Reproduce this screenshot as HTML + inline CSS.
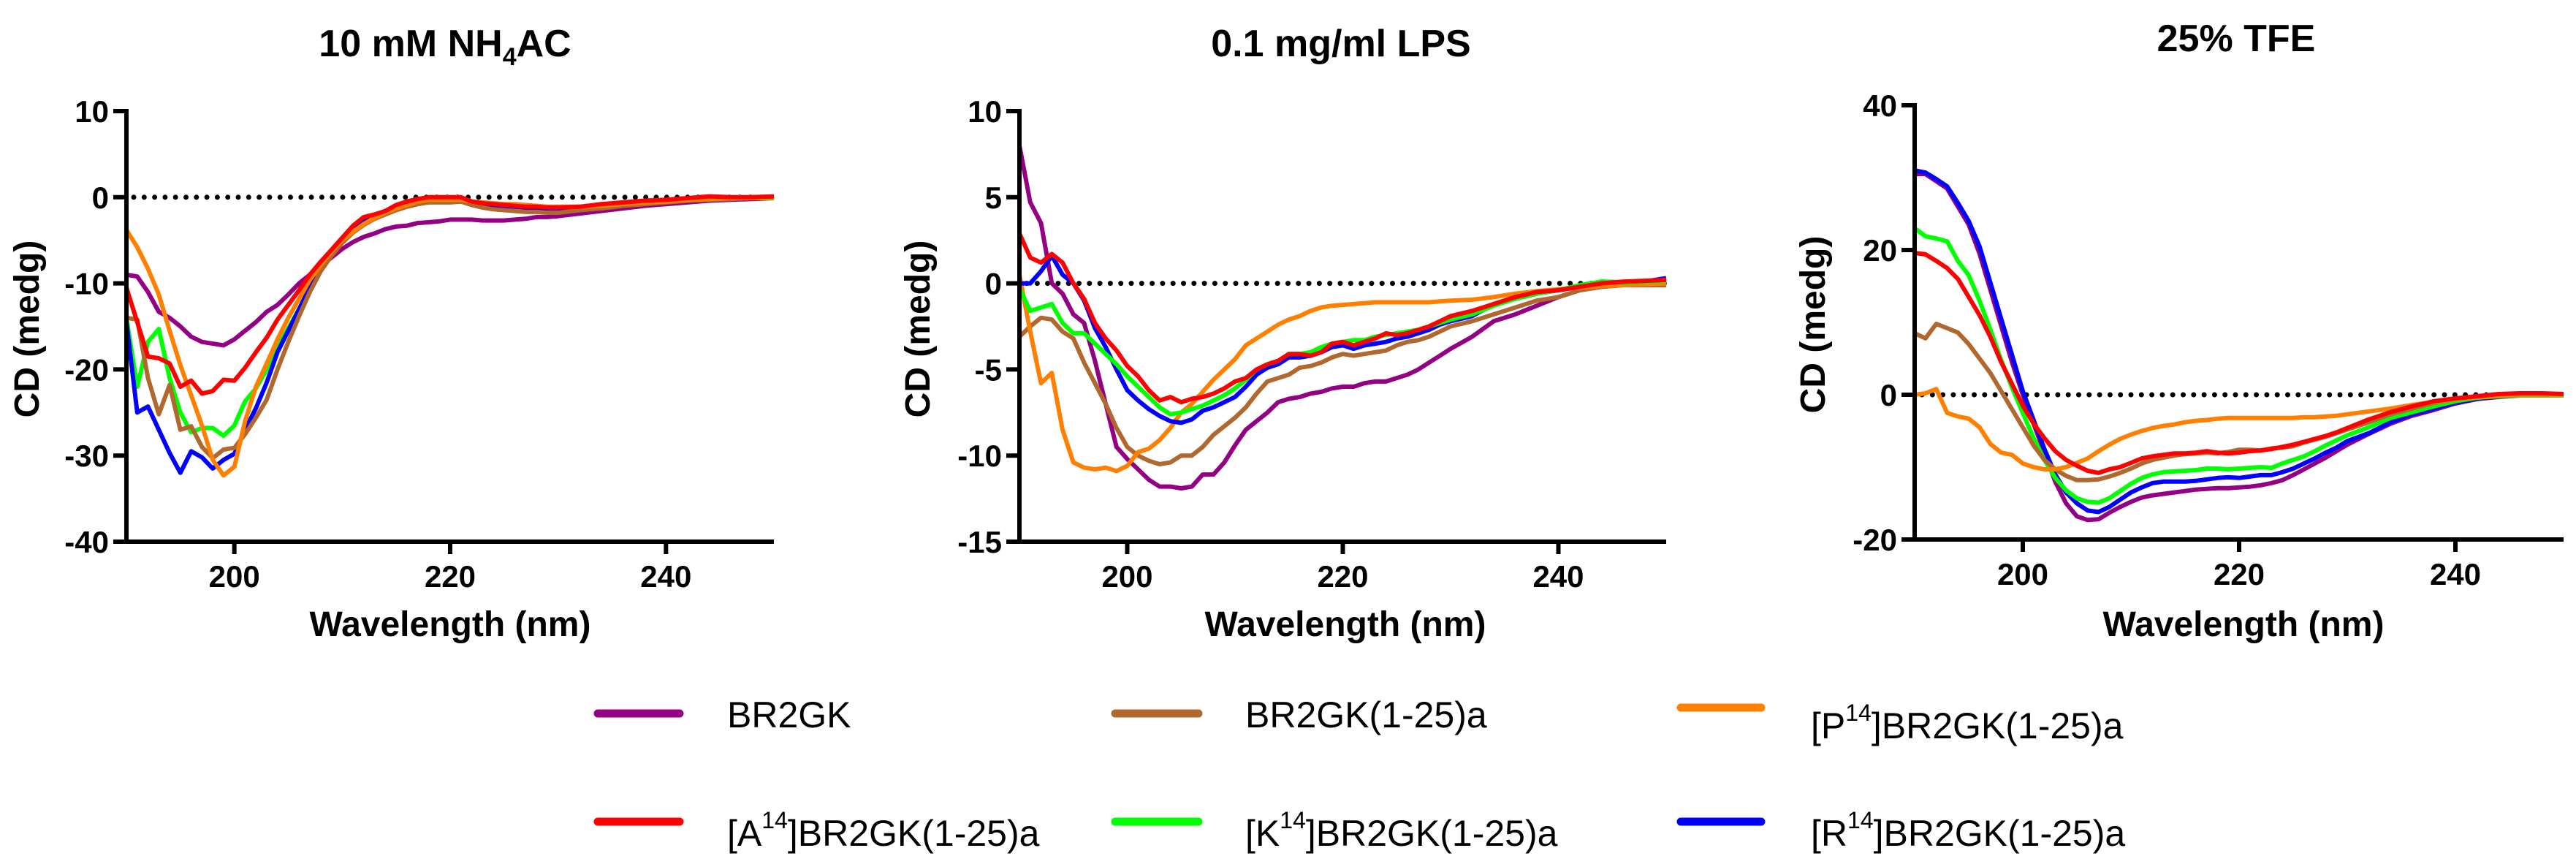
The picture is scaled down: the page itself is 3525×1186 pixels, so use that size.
<!DOCTYPE html>
<html><head><meta charset="utf-8"><style>
html,body{margin:0;padding:0;background:#fff;}
svg{display:block;font-family:"Liberation Sans",Arial,sans-serif;}
</style></head><body>
<svg id="chart" width="3525" height="1186" viewBox="0 0 3525 1186" xmlns="http://www.w3.org/2000/svg">
<g font-weight="bold" font-size="52" text-anchor="middle">
<text x="609" y="77">10 mM NH<tspan font-size="34" dy="12">4</tspan><tspan dy="-12">AC</tspan></text>
<text x="1835" y="77">0.1 mg/ml LPS</text>
<text x="3060" y="70">25% TFE</text>
</g>
<g id="plots"></g>
<g font-size="50">
<line x1="818" y1="976" x2="930" y2="976" stroke="#930083" stroke-width="11" stroke-linecap="round"/>
<text x="995" y="995">BR2GK</text>
<line x1="1526" y1="976" x2="1640" y2="976" stroke="#B0682E" stroke-width="11" stroke-linecap="round"/>
<text x="1704" y="995">BR2GK(1-25)a</text>
<line x1="2300" y1="968" x2="2410" y2="968" stroke="#FF8000" stroke-width="11" stroke-linecap="round"/>
<text x="2478" y="1010">[P<tspan font-size="32" dy="-24">14</tspan><tspan dy="24">]BR2GK(1-25)a</tspan></text>
<line x1="818" y1="1124" x2="930" y2="1124" stroke="#FF0000" stroke-width="11" stroke-linecap="round"/>
<text x="995" y="1157">[A<tspan font-size="32" dy="-24">14</tspan><tspan dy="24">]BR2GK(1-25)a</tspan></text>
<line x1="1526" y1="1124" x2="1640" y2="1124" stroke="#00FF00" stroke-width="11" stroke-linecap="round"/>
<text x="1704" y="1157">[K<tspan font-size="32" dy="-24">14</tspan><tspan dy="24">]BR2GK(1-25)a</tspan></text>
<line x1="2300" y1="1124" x2="2410" y2="1124" stroke="#0000FF" stroke-width="11" stroke-linecap="round"/>
<text x="2478" y="1157">[R<tspan font-size="32" dy="-24">14</tspan><tspan dy="24">]BR2GK(1-25)a</tspan></text>
</g>
</svg>
<script>
const xTicks = [200, 220, 240];
const yTicks1 = [10, 0, -10, -20, -30, -40];
const yTicks2 = [10, 5, 0, -5, -10, -15];
const yTicks3 = [40, 20, 0, -20];
const wl = [190,191,192,193,194,195,196,197,198,199,200,201,202,203,204,205,206,207,208,209,210,211,212,213,214,215,216,217,218,219,220,221,222,223,224,225,226,227,228,229,230,232,234,236,238,240,242,244,246,248,250];
const seriesNames = ['BR2GK','BR2GK(1-25)a','[P14]BR2GK(1-25)a','[A14]BR2GK(1-25)a','[K14]BR2GK(1-25)a','[R14]BR2GK(1-25)a'];
const seriesColors = ['#930083','#B0682E','#FF8000','#FF0000','#00FF00','#0000FF'];
// Panel 1: 10 mM NH4AC
const p1Purple = [-9,-9.2,-11,-13.3,-14,-15,-16.2,-16.8,-17,-17.2,-16.5,-15.5,-14.5,-13.3,-12.5,-11.3,-10,-9,-8,-7,-6,-5.2,-4.6,-4.2,-3.7,-3.4,-3.3,-3,-2.9,-2.8,-2.6,-2.6,-2.6,-2.7,-2.7,-2.7,-2.6,-2.5,-2.3,-2.3,-2.2,-1.9,-1.6,-1.3,-1,-0.8,-0.6,-0.4,-0.3,-0.2,-0.1];
const p1Brown = [-14,-14.2,-21,-25.2,-21.8,-27,-26.6,-29,-30.3,-29.3,-29.1,-27.5,-25.6,-23.5,-20,-16.8,-13.8,-11,-8.6,-6.8,-5.3,-4.1,-3.2,-2.5,-2,-1.5,-1.1,-0.8,-0.6,-0.6,-0.6,-0.5,-0.9,-1.2,-1.4,-1.5,-1.6,-1.7,-1.7,-1.8,-1.8,-1.5,-1.3,-1,-0.8,-0.6,-0.4,-0.3,-0.2,-0.1,0];
const p1Orange = [-3.8,-5.8,-8.3,-11.3,-15.5,-19.5,-23,-26.5,-30.5,-32.3,-31.3,-26,-22,-19.3,-16.5,-14,-11.8,-9.6,-7.9,-6.3,-5,-4,-3.1,-2.4,-1.8,-1.3,-0.9,-0.5,-0.3,-0.3,-0.3,-0.3,-0.5,-0.6,-0.7,-0.8,-0.8,-0.9,-1,-1.1,-1.1,-1.1,-1,-0.8,-0.6,-0.5,-0.3,-0.2,-0.1,-0.1,0];
const p1Red = [-10.5,-14.5,-18.5,-18.7,-19.3,-22,-21.3,-22.8,-22.5,-21.2,-21.3,-19.8,-18,-16.3,-14.2,-12.5,-10.8,-9,-7.5,-6.1,-4.7,-3.3,-2.3,-2,-1.6,-0.9,-0.5,-0.2,0,0,0,0,-0.5,-0.7,-0.8,-0.9,-1,-1.1,-1.1,-1.2,-1.2,-1.1,-0.8,-0.6,-0.4,-0.3,-0.1,0.1,0,0,0.1];
const p1Green = [-14,-22,-16.8,-15.3,-21,-25,-27.3,-26.8,-26.8,-27.7,-26.5,-23.7,-22.2,-20,-17.5,-15.2,-13,-10.5,-8.3,-6.5,-5,-3.8,-2.9,-2.2,-1.7,-1.3,-0.9,-0.6,-0.5,-0.5,-0.5,-0.5,-0.8,-1,-1.2,-1.4,-1.6,-1.7,-1.7,-1.7,-1.6,-1.4,-1.1,-0.9,-0.7,-0.5,-0.4,-0.2,-0.1,-0.1,-0.1];
const p1Blue = [-14.5,-25,-24.3,-27,-29.7,-32,-29.5,-30.2,-31.5,-30.5,-29.8,-27,-24.5,-21.5,-18,-15.5,-13,-10.5,-8.3,-6.5,-5,-3.8,-2.7,-2.2,-1.6,-1.1,-0.7,-0.4,-0.3,-0.2,-0.2,-0.3,-0.6,-0.9,-1.1,-1.2,-1.3,-1.4,-1.5,-1.5,-1.5,-1.3,-1,-0.8,-0.6,-0.4,-0.2,-0.1,-0.1,0,0];
// Panel 2: 0.1 mg/ml LPS
const p2Purple = [8,4.7,3.5,0,-0.6,-1.8,-2.3,-4.5,-7,-9.5,-10.2,-10.8,-11.4,-11.8,-11.8,-11.9,-11.8,-11.1,-11.1,-10.4,-9.4,-8.5,-8,-7.5,-6.9,-6.7,-6.6,-6.4,-6.3,-6.1,-6,-6,-5.8,-5.7,-5.7,-5.5,-5.3,-5,-4.6,-4.2,-3.8,-3.1,-2.2,-1.8,-1.3,-0.8,-0.4,-0.2,-0.1,0,0.1];
const p2Brown = [-3.1,-2.5,-2,-2.1,-2.8,-3.2,-4.6,-5.8,-7,-8.4,-9.5,-10,-10.3,-10.5,-10.4,-10,-10,-9.5,-8.8,-8.3,-7.8,-7.2,-6.4,-5.7,-5.5,-5.3,-4.9,-4.8,-4.6,-4.3,-4.1,-4.2,-4.1,-4,-3.9,-3.6,-3.4,-3.3,-3.1,-2.8,-2.5,-2.2,-1.8,-1.4,-1,-0.8,-0.4,-0.2,-0.1,-0.1,-0.1];
const p2Orange = [0.5,-2.8,-5.8,-5.2,-8.5,-10.4,-10.7,-10.8,-10.7,-10.9,-10.6,-9.8,-9.6,-9.1,-8.4,-7.5,-7,-6.3,-5.6,-5,-4.4,-3.6,-3.2,-2.8,-2.4,-2.1,-1.9,-1.6,-1.4,-1.3,-1.25,-1.2,-1.15,-1.1,-1.1,-1.1,-1.1,-1.1,-1.1,-1.05,-1,-0.95,-0.8,-0.6,-0.45,-0.35,-0.25,-0.15,-0.1,-0.05,0];
const p2Red = [2.9,1.5,1.2,1.7,1.2,0,-0.9,-2.3,-3.2,-3.9,-4.8,-5.4,-6.2,-6.8,-6.6,-6.9,-6.7,-6.6,-6.4,-6.1,-5.7,-5.5,-5,-4.7,-4.5,-4.1,-4.1,-4.2,-4,-3.5,-3.4,-3.6,-3.4,-3.2,-2.9,-3,-2.9,-2.7,-2.5,-2.2,-1.9,-1.6,-1.2,-0.8,-0.5,-0.4,-0.2,0,0.1,0.15,0.2];
const p2Green = [-0.3,-1.6,-1.4,-1.2,-2.3,-2.9,-2.9,-3.5,-4.1,-4.7,-5.4,-6,-6.6,-7.2,-7.6,-7.5,-7.3,-7.1,-6.8,-6.5,-6.1,-5.6,-5,-4.7,-4.5,-4.1,-4.1,-4,-3.7,-3.5,-3.4,-3.3,-3.3,-3.1,-3,-2.9,-2.8,-2.7,-2.5,-2.3,-2.1,-1.8,-1.3,-0.9,-0.6,-0.4,-0.1,0.1,0.05,0.1,0.15];
const p2Blue = [0,0,0.7,1.6,0.5,0,-1,-2.6,-3.7,-5,-6.2,-6.8,-7.3,-7.7,-8,-8.1,-7.9,-7.4,-7.2,-6.9,-6.6,-6,-5.3,-4.9,-4.7,-4.3,-4.3,-4.2,-4,-3.7,-3.6,-3.8,-3.6,-3.5,-3.4,-3.2,-3.1,-2.9,-2.7,-2.4,-2.2,-1.9,-1.2,-0.9,-0.6,-0.4,-0.2,0.1,0.05,0.1,0.3];
// Panel 3: 25% TFE
const p3Purple = [30.5,30.5,29.5,28.5,26,23.5,19.5,14.5,9.5,4.5,0,-4,-8,-12,-15,-16.8,-17.3,-17.2,-16.3,-15.5,-14.8,-14.2,-13.9,-13.7,-13.5,-13.3,-13.1,-13,-12.9,-12.9,-12.8,-12.7,-12.5,-12.2,-11.8,-11.1,-10.3,-9.5,-8.7,-7.8,-6.9,-5.4,-4,-2.9,-2.1,-1.2,-0.6,-0.3,-0.1,0,0];
const p3Brown = [8.5,7.8,9.8,9.2,8.6,7,5,3,0.5,-2,-4.5,-7,-9,-10.3,-11.2,-11.8,-11.8,-11.7,-11.3,-10.8,-10.2,-9.5,-9,-8.7,-8.4,-8.2,-8.1,-8,-8.1,-7.9,-7.6,-7.6,-7.7,-7.4,-7.3,-7.1,-6.6,-6.2,-5.8,-5.3,-4.8,-3.8,-2.7,-1.9,-1.1,-0.6,-0.3,-0.1,0,0,0];
const p3Orange = [0,0.2,0.8,-2.5,-3,-3.3,-4.5,-6.8,-8,-8.3,-9.5,-10,-10.3,-10.3,-10,-9.4,-8.8,-7.8,-6.9,-6.1,-5.5,-5,-4.6,-4.3,-4.1,-3.8,-3.6,-3.5,-3.3,-3.2,-3.2,-3.2,-3.2,-3.2,-3.2,-3.2,-3.1,-3.1,-3,-2.9,-2.7,-2.3,-1.9,-1.4,-1,-0.6,-0.3,-0.1,0,0,0];
const p3Red = [19.6,19.4,18.5,17.5,16,13.5,11,8,4.5,1.5,-1.5,-4,-6,-7.8,-9,-9.8,-10.5,-10.8,-10.3,-10,-9.4,-8.8,-8.5,-8.3,-8.1,-8.1,-8,-7.8,-8,-8.1,-8,-7.8,-7.7,-7.5,-7.2,-6.9,-6.5,-6.1,-5.7,-5.2,-4.6,-3.4,-2.4,-1.6,-0.9,-0.5,-0.2,0.1,0.2,0.2,0.1];
const p3Green = [23,21.9,21.6,21.2,18.5,16.5,13,9,4.8,1,-2.5,-6,-9,-11.5,-13.2,-14.3,-14.8,-14.9,-14.3,-13.3,-12.3,-11.5,-11,-10.7,-10.6,-10.5,-10.4,-10.2,-10.2,-10.3,-10.2,-10.1,-10,-10.1,-9.5,-9,-8.5,-7.8,-7,-6.3,-5.6,-4.5,-3.2,-2.4,-1.6,-0.9,-0.4,-0.2,-0.1,-0.1,-0.1];
const p3Blue = [31,30.7,29.8,28.8,26.5,24,20.5,15.5,10.5,5.5,0.5,-3.5,-7.5,-11,-13.5,-15,-16,-16.2,-15.5,-14.5,-13.5,-12.8,-12.2,-12,-12,-12,-11.9,-11.7,-11.5,-11.4,-11.5,-11.3,-11.1,-11.1,-10.7,-10.2,-9.5,-8.8,-8,-7.3,-6.4,-5.3,-3.8,-2.7,-1.9,-1.1,-0.5,-0.2,0,0,0];

const NS = 'http://www.w3.org/2000/svg';
const root = document.getElementById('plots');
function mk(tag, attrs, parent){const e=document.createElementNS(NS,tag);for(const k in attrs)e.setAttribute(k,attrs[k]);parent.appendChild(e);return e;}

const panels = [
  {key:'nh4ac', x0:173, x1:1059, yTop:152, yBot:741, yMax:10, yMin:-40, ticks:yTicks1, labX:36, labY:450, xLabX:616, drawOrder:[0,4,5,1,2,3], series:[p1Purple,p1Brown,p1Orange,p1Red,p1Green,p1Blue]},
  {key:'lps', x0:1395, x1:2280, yTop:152, yBot:741, yMax:10, yMin:-15, ticks:yTicks2, labX:1255, labY:450, xLabX:1841, drawOrder:[0,1,2,5,4,3], series:[p2Purple,p2Brown,p2Orange,p2Red,p2Green,p2Blue]},
  {key:'tfe', x0:2620, x1:3508, yTop:144, yBot:738, yMax:40, yMin:-20, ticks:yTicks3, labX:2480, labY:444, xLabX:3070, drawOrder:[0,5,4,1,2,3], series:[p3Purple,p3Brown,p3Orange,p3Red,p3Green,p3Blue]}
];

panels.forEach(p=>{
  const g = mk('g',{},root);
  
  
  const xs = v => p.x0 + (v-190)/(250-190)*(p.x1-p.x0);
  const ys = v => p.yTop + (p.yMax-v)/(p.yMax-p.yMin)*(p.yBot-p.yTop);
  const z = mk('line',{x1:p.x0+10,x2:p.x1,y1:ys(0),y2:ys(0),stroke:'#000','stroke-width':7,'stroke-linecap':'round','stroke-dasharray':'0 14.3'},g);
  
  
  p.drawOrder.forEach(i=>{
    const vals = p.series[i];
    const d = vals.map((v,j)=>(j?'L':'M')+xs(wl[j]).toFixed(1)+' '+ys(v).toFixed(1)).join(' ');
    const path = mk('path',{d:d,fill:'none',stroke:seriesColors[i],'stroke-width':6,'stroke-linejoin':'round'},g);
    
    
  });
  const ya = mk('line',{x1:p.x0,x2:p.x0,y1:p.yTop-3,y2:p.yBot+3,stroke:'#000','stroke-width':6},g);
  
  
  const xa = mk('line',{x1:p.x0-3,x2:p.x1,y1:p.yBot,y2:p.yBot,stroke:'#000','stroke-width':6},g);
  
  
  p.ticks.forEach(t=>{
    mk('line',{x1:p.x0-18,x2:p.x0,y1:ys(t),y2:ys(t),stroke:'#000','stroke-width':6},g);
    const tl = mk('text',{x:p.x0-24,y:ys(t)+15,'text-anchor':'end','font-size':42,'font-weight':'bold'},g);
    tl.textContent = t;
    
    
  });
  xTicks.forEach(t=>{
    mk('line',{x1:xs(t),x2:xs(t),y1:p.yBot,y2:p.yBot+17,stroke:'#000','stroke-width':6},g);
    const tl = mk('text',{x:xs(t),y:p.yBot+62,'text-anchor':'middle','font-size':42,'font-weight':'bold'},g);
    tl.textContent = t;
    
    
  });
  const xl = mk('text',{x:p.xLabX,y:870,'text-anchor':'middle','font-size':48,'font-weight':'bold'},g);
  xl.textContent = 'Wavelength (nm)';
  
  
  const yl = mk('text',{x:0,y:0,'text-anchor':'middle','font-size':48,'font-weight':'bold',transform:'translate('+(p.labX+17)+','+p.labY+') rotate(-90)'},g);
  yl.textContent = 'CD (medg)';
  
  
});
</script>
</body></html>
